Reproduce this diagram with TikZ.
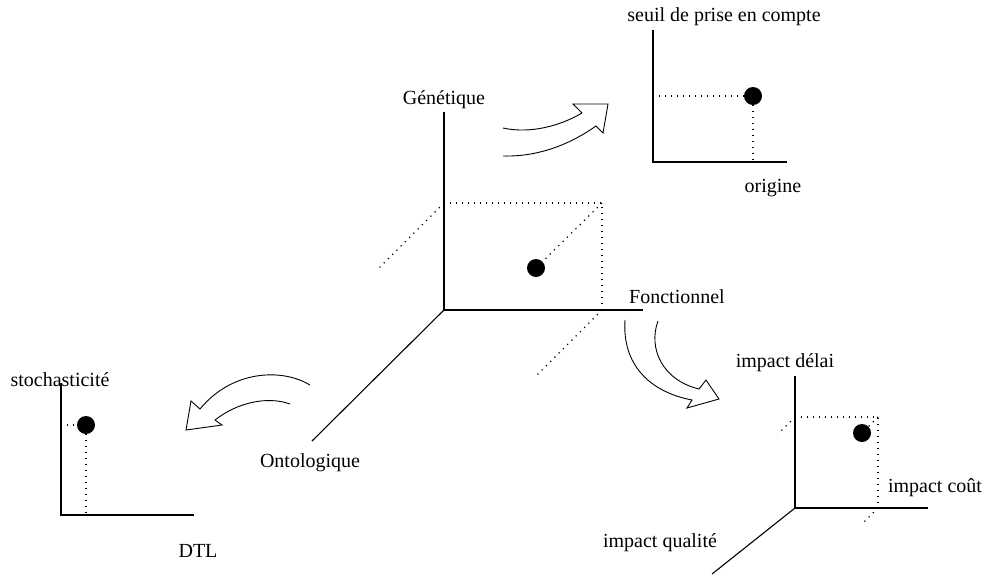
\documentclass[tikz,border=0pt]{standalone}
\usepackage{fontspec}
\setmainfont{Liberation Serif}
\begin{document}
\begin{tikzpicture}[x=1pt,y=-1pt,
  axis/.style={line width=1.1pt},
  dots/.style={line width=1.2pt,dash pattern=on 1.2pt off 4.8pt},
  pt/.style={circle,fill=black,inner sep=0pt,minimum size=18pt},
  lbl/.style={font=\fontsize{20}{24}\selectfont,inner sep=0pt},
  bigarrow/.style={line width=0.9pt,line join=miter}]
\useasboundingbox (0,0) rectangle (993,574);

% ---------- main 3D axes ----------
\coordinate (O) at (444,310);
\coordinate (Ytop) at (444,112);
\coordinate (Xend) at (643,310);
\coordinate (Zend) at (312,441);
\draw[axis] (Ytop) -- (O) -- (Xend);
\draw[axis] (O) -- (Zend);
\coordinate (By) at (444,203);
\coordinate (Bxy) at (602,203);
\coordinate (Bx) at (602,310);
\coordinate (Bzy) at (379,268);
\coordinate (Bxz) at (537,375);
\node[pt] (P) at (536,268) {};
\draw[dots] (By) -- (Bxy) -- (Bx);
\draw[dots] (By) -- (Bzy);
\draw[dots] (Bxy) -- (P);
\draw[dots] (Bx) -- (Bxz);
\node[lbl] (gen) at (444,100) {Génétique};
\node[lbl] (fonc) at (677,297) {Fonctionnel};
\node[lbl] (onto) at (310,463) {Ontologique};

% ---------- top-right 2D chart ----------
\coordinate (A1) at (653,162);
\draw[axis] (653,30) -- (A1) -- (787,162);
\node[pt] (P1) at (753,96) {};
\draw[dots] (653,96) -- (P1);
\draw[dots] (P1) -- (753,162);
\node[lbl] (seuil) at (724,17) {seuil de prise en compte};
\node[lbl] (orig) at (773,188) {origine};

% ---------- bottom-left 2D chart ----------
\coordinate (A2) at (61,515);
\draw[axis] (61,383) -- (A2) -- (194,515);
\node[pt] (P2) at (86,425) {};
\draw[dots] (61,425) -- (P2);
\draw[dots] (P2) -- (86,515);
\node[lbl] (stoch) at (60,380) {stochasticité};
\node[lbl] (dtl) at (198,551) {DTL};

% ---------- bottom-right 3D chart ----------
\coordinate (O3) at (795,508);
\draw[axis] (795,376) -- (O3) -- (928,508);
\draw[axis] (O3) -- (712,574);
\node[pt] (P3) at (862,433) {};
\draw[dots] (795,417) -- (878,417) -- (878,508);
\draw[dots] (795,417) -- (778,434);
\draw[dots] (878,417) -- (P3);
\draw[dots] (878,508) -- (862,524);
\node[lbl] (delai) at (785,363) {impact délai};
\node[lbl] (cout) at (935,488) {impact coût};
\node[lbl] (qual) at (660,543) {impact qualité};

% ---------- hollow curved arrows ----------
% Genetique -> top chart
\draw[bigarrow] (503,128) .. controls (530,134) and (560,126) .. (582,113)
  -- (573,104) -- (608,104) -- (603,133) -- (596,126)
  .. controls (572,143) and (540,157) .. (503,156);
% Fonctionnel -> bottom-right chart
\draw[bigarrow] (658,321) .. controls (648,348) and (662,380) .. (699,389)
  -- (706,380) -- (719,399) -- (687,408) -- (692,400)
  .. controls (650,392) and (622,365) .. (625,320);
% Ontologique -> left chart
\draw[bigarrow] (310,385) .. controls (282,368) and (232,370) .. (200,409)
  -- (191,401) -- (186,430) -- (222,425) -- (215,420)
  .. controls (238,402) and (268,396) .. (290,404);
\end{tikzpicture}
\end{document}
